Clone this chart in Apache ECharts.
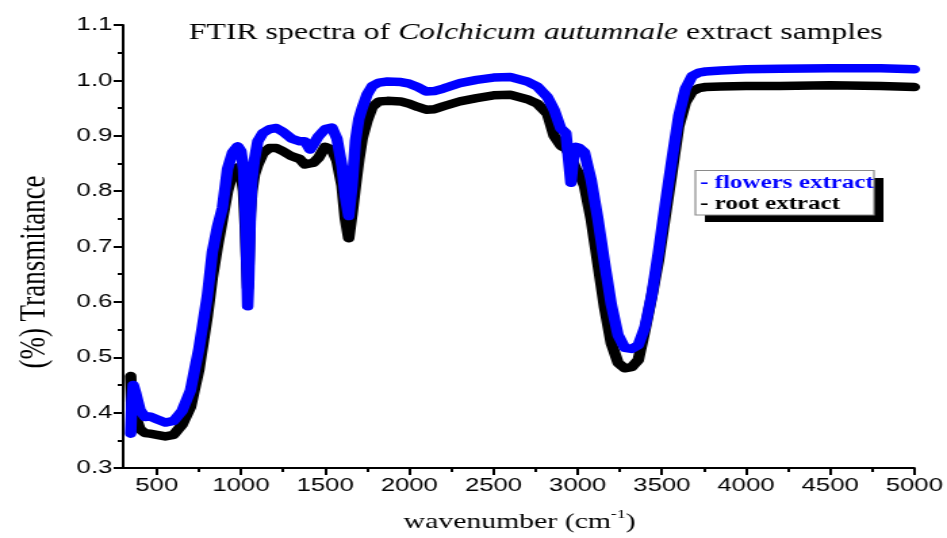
<!DOCTYPE html>
<html><head><meta charset="utf-8">
<script src="https://cdn.jsdelivr.net/npm/echarts@6/dist/echarts.min.js"></script>
<style>
html,body{margin:0;padding:0;background:#fff;overflow:hidden;}
#wrap{width:947px;height:538px;overflow:hidden;}
#c{width:700px;height:538px;transform:scaleX(1.352857);transform-origin:0 0;}
</style></head><body><div id="wrap"><div id="c"></div></div>
<script>
const wavenumbers = [
  345, 352, 360, 375, 400, 430, 460, 500, 550, 600,
  650, 700, 750, 800, 830, 860, 890, 920, 950, 980,
  1000, 1015, 1025, 1035, 1040, 1045, 1055, 1065, 1080, 1100,
  1130, 1170, 1210, 1250, 1300, 1350, 1380, 1410, 1430, 1460,
  1500, 1540, 1570, 1600, 1620, 1640, 1660, 1680, 1700, 1720,
  1750, 1780, 1820, 1870, 1950, 2000, 2050, 2100, 2150, 2200,
  2300, 2400, 2500, 2600, 2700, 2760, 2820, 2860, 2900, 2930,
  2960, 2975, 2990, 3010, 3040, 3080, 3120, 3160, 3200, 3240,
  3280, 3320, 3360, 3400, 3440, 3480, 3520, 3560, 3600, 3640,
  3680, 3720, 3760, 3850, 4000, 4200, 4500, 4800, 5000
];
const flowers = [
  0.362, 0.42, 0.45, 0.435, 0.405, 0.392, 0.393, 0.388, 0.382, 0.385,
  0.403, 0.44, 0.515, 0.61, 0.69, 0.735, 0.77, 0.84, 0.87, 0.881,
  0.872, 0.84, 0.77, 0.66, 0.592, 0.63, 0.75, 0.82, 0.857, 0.89,
  0.905, 0.912, 0.914, 0.907, 0.895, 0.89, 0.89, 0.875, 0.884, 0.899,
  0.912, 0.915, 0.895, 0.845, 0.79, 0.755, 0.81, 0.89, 0.93, 0.95,
  0.975, 0.99, 0.996, 0.998, 0.997, 0.994, 0.988, 0.98, 0.981, 0.985,
  0.995, 1.001, 1.005, 1.006, 0.998, 0.989, 0.97, 0.947, 0.913, 0.905,
  0.815, 0.86, 0.88, 0.878, 0.87, 0.82, 0.75, 0.67, 0.595, 0.54,
  0.517, 0.515, 0.522, 0.555, 0.612, 0.69, 0.775, 0.857, 0.935, 0.985,
  1.008, 1.014, 1.016, 1.018, 1.02, 1.021, 1.022, 1.022, 1.02
];
const root = [
  0.466, 0.40, 0.42, 0.392, 0.37, 0.363, 0.362, 0.36, 0.357, 0.36,
  0.378, 0.41, 0.478, 0.575, 0.645, 0.70, 0.75, 0.80, 0.832, 0.843,
  0.83, 0.80, 0.74, 0.66, 0.625, 0.66, 0.76, 0.80, 0.83, 0.848,
  0.868, 0.878, 0.878, 0.872, 0.863, 0.858, 0.848, 0.85, 0.851, 0.86,
  0.88, 0.875, 0.855, 0.81, 0.75, 0.715, 0.76, 0.81, 0.857, 0.895,
  0.928, 0.952, 0.962, 0.963, 0.962, 0.958, 0.952, 0.947, 0.948, 0.953,
  0.962, 0.968, 0.973, 0.974, 0.966, 0.958, 0.94, 0.9, 0.882, 0.877,
  0.862, 0.85, 0.84, 0.83, 0.81, 0.75, 0.67, 0.59, 0.525, 0.49,
  0.48, 0.482, 0.495, 0.55, 0.61, 0.675, 0.755, 0.835, 0.917, 0.96,
  0.98, 0.986, 0.988, 0.989, 0.99, 0.99, 0.991, 0.99, 0.988
];
const xTicks = [500, 1000, 1500, 2000, 2500, 3000, 3500, 4000, 4500, 5000];
const xMinorTicks = [750, 1250, 1750, 2250, 2750, 3250, 3750, 4250, 4750];
const seriesNames = ['- flowers extract', '- root extract'];

const chart = echarts.init(document.getElementById('c'), null, {renderer: 'canvas'});
const pair = (ys) => wavenumbers.map((x, i) => [x, ys[i]]);
const serif = 'Liberation Serif, Times New Roman, serif';
const sans = 'Liberation Sans, Arial, sans-serif';

chart.setOption({
  animation: false,
  backgroundColor: '#fff',
  grid: {left: 91, right: 21, top: 25, bottom: 70, containLabel: false},
  xAxis: [{
    type: 'value', min: 300, max: 5000, gridIndex: 0, position: 'bottom',
    axisLine: {show: true, onZero: false, lineStyle: {color: '#000', width: 2}},
    axisTick: {show: true, inside: false, length: 7, customValues: xTicks, lineStyle: {color: '#000', width: 2}},
    axisLabel: {show: true, customValues: xTicks, color: '#000', fontFamily: sans, fontSize: 19, margin: 8,
      formatter: (v) => String(Math.round(v))},
    splitLine: {show: false}
  }, {
    type: 'value', min: 300, max: 5000, gridIndex: 0, position: 'bottom',
    axisLine: {show: false, onZero: false},
    axisTick: {show: true, inside: false, length: 4, customValues: xMinorTicks, lineStyle: {color: '#000', width: 2}},
    axisLabel: {show: false},
    splitLine: {show: false}
  }],
  yAxis: {
    type: 'value', min: 0.3, max: 1.1, interval: 0.1,
    axisLine: {show: true, onZero: false, lineStyle: {color: '#000', width: 2}},
    axisTick: {show: true, inside: false, length: 7, lineStyle: {color: '#000', width: 2}},
    minorTick: {show: true, splitNumber: 2, length: 4, lineStyle: {color: '#000', width: 2}},
    axisLabel: {color: '#000', fontFamily: sans, fontSize: 19, margin: 8,
      formatter: (v) => v.toFixed(1)},
    splitLine: {show: false}
  },
  series: [{
    name: seriesNames[1], type: 'line', xAxisIndex: 0, data: pair(root),
    showSymbol: false, symbol: 'none', smooth: false,
    lineStyle: {color: '#000', width: 8.5, join: 'round', cap: 'round'}, z: 2
  }, {
    name: seriesNames[0], type: 'line', xAxisIndex: 0, data: pair(flowers),
    showSymbol: false, symbol: 'none', smooth: false,
    lineStyle: {color: '#0000ff', width: 8.5, join: 'round', cap: 'round'}, z: 3
  }],
  graphic: [
    {type: 'text', x: 396, y: 33, z: 10, style: {
      text: '{a|FTIR spectra of }{b|Colchicum autumnale}{a| extract samples}',
      align: 'center', verticalAlign: 'middle',
      rich: {
        a: {fontFamily: serif, fontSize: 23.5, fill: '#000'},
        b: {fontFamily: serif, fontSize: 23.5, fontStyle: 'italic', fill: '#000'}
      }
    }},
    {type: 'text', x: 384, y: 522, z: 10, style: {
      text: '{a|wavenumber (cm}{s|-1}{a|)}',
      align: 'center', verticalAlign: 'middle',
      rich: {
        a: {fontFamily: serif, fontSize: 22, fill: '#000', lineHeight: 28},
        s: {fontFamily: serif, fontSize: 13, fill: '#000', lineHeight: 16, verticalAlign: 'top'}
      }
    }},
    {type: 'text', x: 26, y: 272, rotation: Math.PI / 2, z: 10, style: {
      text: '(%) Transmitance', fontFamily: serif, fontSize: 27, fill: '#000',
      align: 'center', verticalAlign: 'middle'
    }},
    {type: 'rect', shape: {x: 521, y: 178, width: 132, height: 44}, z: 10,
      style: {fill: '#000'}},
    {type: 'rect', shape: {x: 514, y: 170.5, width: 132, height: 44.5}, z: 11,
      style: {fill: '#fff', stroke: '#8a8a8a', lineWidth: 1.2}},
    {type: 'text', x: 517.5, y: 183, z: 12, style: {
      text: seriesNames[0], fontFamily: serif, fontSize: 18.5, fontWeight: 'bold',
      fill: '#0000ff', align: 'left', verticalAlign: 'middle'
    }},
    {type: 'text', x: 517.5, y: 204, z: 12, style: {
      text: seriesNames[1], fontFamily: serif, fontSize: 18.5, fontWeight: 'bold',
      fill: '#000', align: 'left', verticalAlign: 'middle'
    }}
  ]
});
</script>
</body></html>
